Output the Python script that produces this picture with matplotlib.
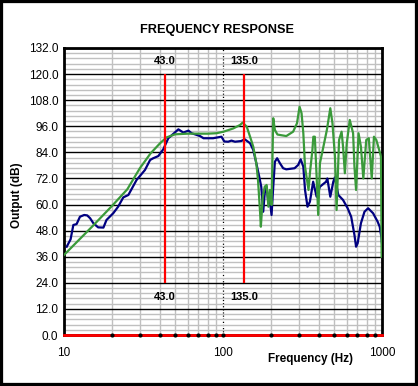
import numpy as np
import matplotlib
matplotlib.use('Agg')
import matplotlib.pyplot as plt
from matplotlib.ticker import MultipleLocator, FixedLocator, NullFormatter
from matplotlib.patches import Rectangle

# measured response (blue)
meas_f = [10.4, 11.0, 11.45, 12.0, 12.6, 13.4, 14.0, 14.6, 15.3, 16.4, 17.7, 18.5,
          20.4, 21.9, 23.6, 25.4, 28.6, 32.3, 34.8, 36.4, 39.2, 42.1, 45.3, 48.7,
          52.4, 56.3, 60.6, 63.5, 71.7, 75.4, 86.6, 97.8, 102, 107.8, 113, 119,
          130, 137, 148, 155, 162, 169, 174, 179, 183, 188, 193, 197, 202, 207,
          212, 219, 228, 239, 250, 282, 297, 308, 320, 328, 340, 352, 369, 388,
          407, 445, 453, 473, 494, 506, 531, 569, 608, 640, 671, 687, 703, 737,
          776, 818, 879, 939, 967, 990, 1000]
meas_db = [40.6, 44.0, 50.6, 51.0, 54.4, 55.2, 55.0, 53.7, 51.4, 49.5, 49.4, 52.9,
           56.0, 59.0, 63.3, 64.4, 71.3, 75.9, 80.5, 81.3, 82.3, 85.4, 90.5, 92.5,
           94.6, 93.1, 94.0, 92.8, 91.5, 90.5, 90.5, 91.2, 89.0, 88.9, 89.4, 88.9,
           89.2, 90.0, 88.2, 85.1, 79.0, 72.8, 68.2, 56.7, 65.2, 68.2, 60.6, 62.1,
           55.2, 68.2, 79.7, 81.3, 79.0, 76.7, 76.2, 76.7, 78.2, 80.8, 77.4, 66.7,
           59.0, 61.3, 70.5, 63.6, 68.2, 70.5, 72.0, 63.6, 70.5, 72.5, 64.4, 62.1,
           58.3, 54.4, 46.0, 40.6, 42.2, 51.4, 56.7, 58.3, 56.0, 52.1, 49.8, 45.2,
           42.0]

# model response (green)
model_f = [10, 15, 20, 25, 30, 35, 40.2, 44.2, 50, 60, 80, 91, 100.6, 116, 128,
           133, 141, 148, 155, 162, 166, 171, 173, 178, 183, 188, 193, 197, 202,
           207, 212, 220, 228, 250, 276, 292, 303, 312, 320, 328, 345, 352, 365,
           370, 378, 388, 397, 407, 428, 450, 473, 488, 506, 518, 537, 557, 569,
           584, 600, 627, 658, 671, 687, 712, 737, 763, 796, 826, 862, 890, 921,
           967, 985, 995]
model_db = [36.8, 49.8, 59.3, 67.0, 76.7, 83.5, 88.2, 90.9, 92.3, 92.6, 92.6,
            92.8, 93.5, 95.0, 96.6, 97.7, 95.8, 91.2, 86.6, 79.0, 71.3, 56.7,
            49.8, 63.6, 68.2, 69.0, 59.0, 66.7, 59.8, 99.7, 94.3, 92.2, 92.0,
            91.5, 93.5, 97.4, 105.0, 102.0, 92.8, 77.4, 66.7, 74.4, 85.1, 91.2,
            91.2, 72.8, 55.2, 79.0, 86.6, 94.3, 104.3, 97.4, 82.0, 57.5, 89.7,
            93.5, 86.6, 74.4, 88.0, 98.9, 92.8, 77.4, 66.7, 92.8, 86.6, 72.0,
            89.7, 90.5, 72.0, 91.2, 89.7, 84.3, 82.0, 36.0]

# port / box tuning markers
mark_f = [43.0, 135.0]
mark_lo, mark_hi = 24.0, 120.0

y_ticks = np.arange(0, 133, 12)
x_ticks = [10, 100, 1000]
x_minor = [k * d for d in (10, 100) for k in range(2, 10)]

fig = plt.figure(figsize=(4.18, 3.86), dpi=100)
ax = fig.add_axes([64 / 418, 1 - 335 / 386, 318 / 418, 287 / 386])

ax.set_xscale('log')
ax.set_xlim(10, 1000)
ax.set_ylim(0, 132)

ax.yaxis.set_major_locator(FixedLocator(y_ticks))
ax.yaxis.set_minor_locator(MultipleLocator(2.4))
ax.xaxis.set_major_locator(FixedLocator(x_ticks))
ax.xaxis.set_minor_locator(FixedLocator(x_minor))
ax.xaxis.set_minor_formatter(NullFormatter())
ax.set_xticklabels([str(v) for v in x_ticks])
ax.set_yticklabels(['%.1f' % v for v in y_ticks])

ax.grid(which='minor', color='#c0c0c0', lw=1.0)
ax.grid(which='major', axis='y', color='black', lw=1.0)
ax.grid(which='major', axis='x', color='black', lw=0.9, ls=(0, (1, 1.5)))
ax.set_axisbelow(True)
ax.tick_params(which='both', length=0)
ax.tick_params(axis='y', pad=4, labelsize=8.5)
ax.tick_params(axis='x', pad=9, labelsize=8.5)
for lab in ax.get_xticklabels() + ax.get_yticklabels():
    lab.set_fontfamily('Liberation Sans')

for s in ax.spines.values():
    s.set_linewidth(2.0)

ax.plot(meas_f, meas_db, color='#000080', lw=1.6, zorder=3)
ax.plot(model_f, model_db, color='#3a9a3a', lw=1.6, zorder=4)

for f in mark_f:
    ax.vlines(f, mark_lo, mark_hi, color='#ff0000', lw=1.6, zorder=5)
    ax.text(f, 126, '%.1f' % f, ha='center', va='center', fontsize=8,
            fontweight='bold', family='Liberation Sans')
    ax.text(f, 17.5, '%.1f' % f, ha='center', va='center', fontsize=8,
            fontweight='bold', family='Liberation Sans')

# red baseline with tick dots
ax.axhline(0, color='#ff0000', lw=2.0, zorder=6, clip_on=False)
ax.plot(x_minor + [100], [0] * (len(x_minor) + 1), 'o', color='black', ms=2,
        zorder=7, clip_on=False)

fig.text(217 / 418, 1 - 30 / 386, 'FREQUENCY RESPONSE', ha='center', va='center',
         fontsize=9.2, fontweight='bold', family='Liberation Sans')
fig.text(311 / 418, 1 - 359 / 386, 'Frequency (Hz)', ha='center', va='center',
         fontsize=8.5, fontweight='bold', family='Liberation Sans')
fig.text(17 / 418, 1 - 195 / 386, 'Output (dB)', ha='center', va='center',
         rotation=90, fontsize=8.5, fontweight='bold', family='Liberation Sans')

fig.patches.append(Rectangle((0, 0), 1, 1, transform=fig.transFigure, fill=False,
                             edgecolor='black', lw=4.5))

fig.savefig('out.png', dpi=100)
